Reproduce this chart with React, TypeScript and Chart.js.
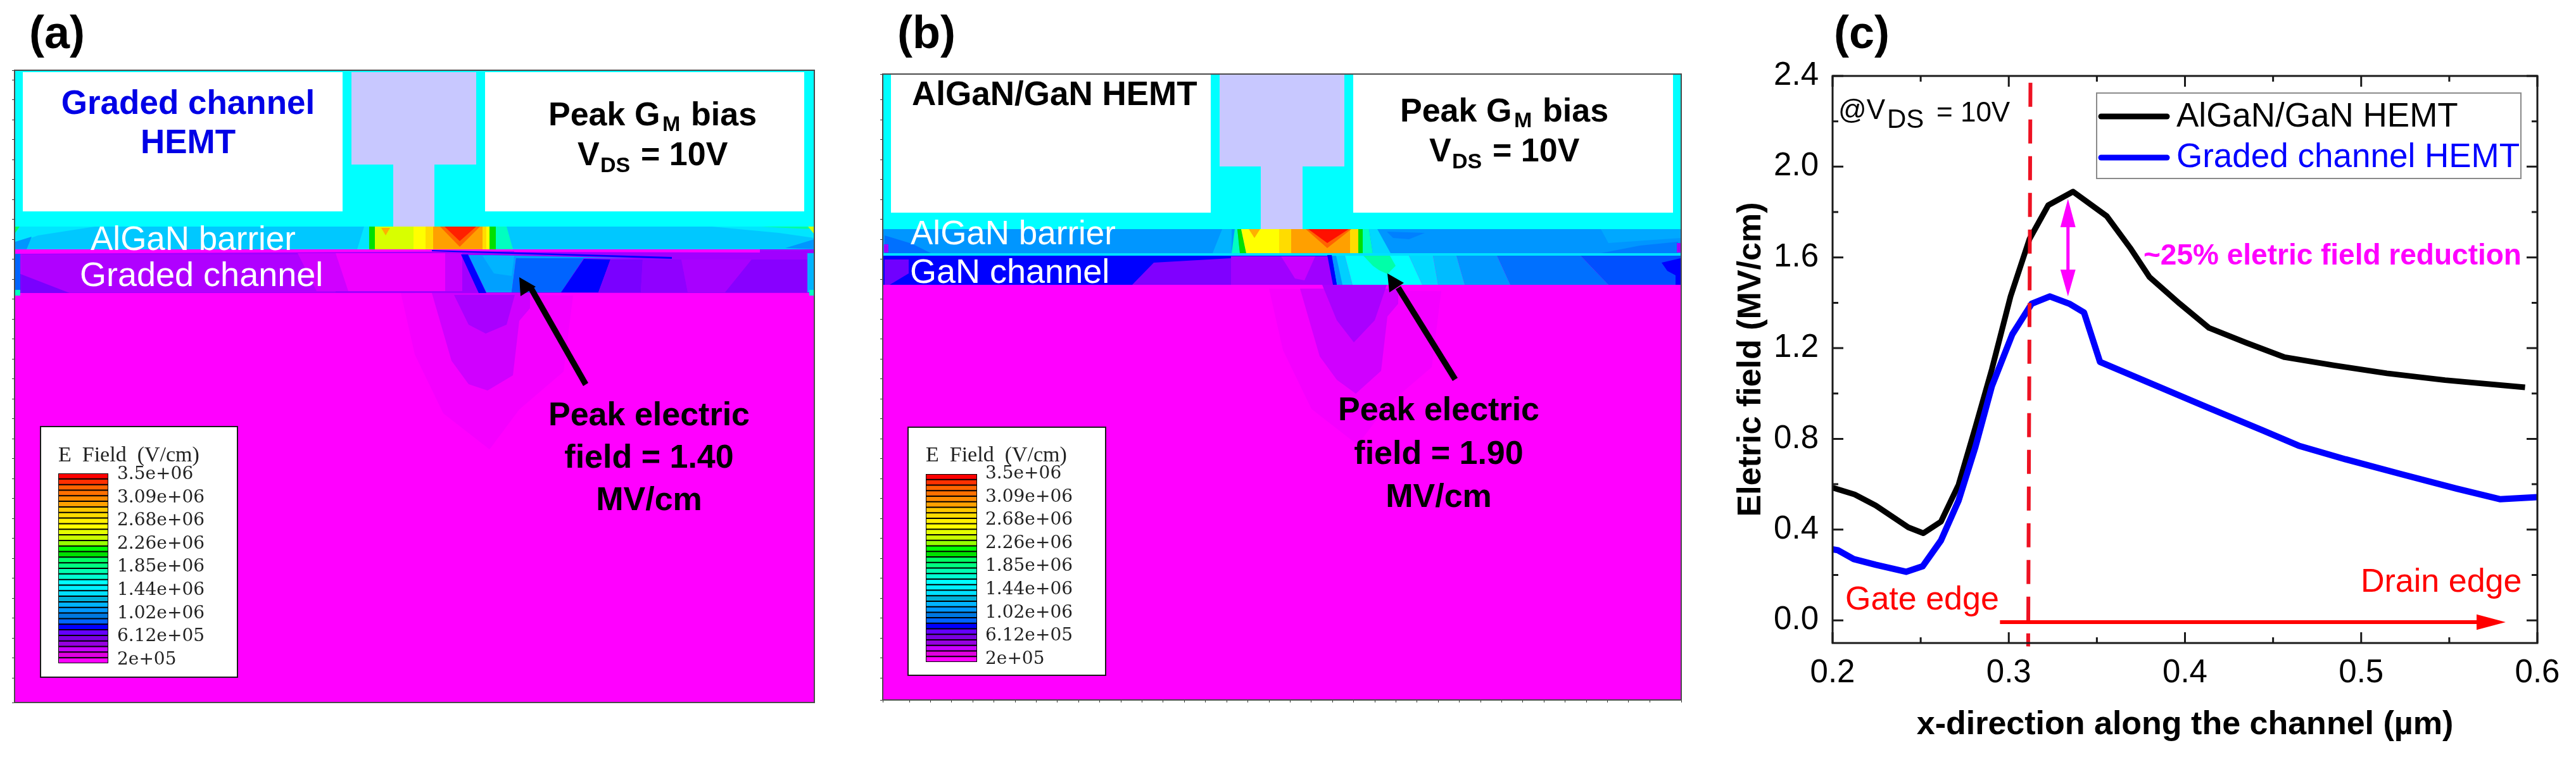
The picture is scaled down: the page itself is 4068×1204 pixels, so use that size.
import React, { useEffect, useRef } from "react";
import { Chart, registerables } from "chart.js";

Chart.register(...registerables);

const SANS = '"Liberation Sans"';
const SERIF = '"Liberation Serif"';
const DSERIF = '"DejaVu Serif"';

/* ---------- panel (c) values ---------- */
const algan = [
  [0.2, 0.585], [0.2125, 0.555], [0.2245, 0.506], [0.243, 0.41], [0.2515, 0.384], [0.2615, 0.435],
  [0.2715, 0.598], [0.281, 0.85], [0.2904, 1.107], [0.301, 1.428], [0.3117, 1.68], [0.3224, 1.83],
  [0.3365, 1.89], [0.3556, 1.782], [0.3688, 1.643], [0.3798, 1.514], [0.397, 1.396], [0.4137, 1.289],
  [0.4347, 1.224], [0.4566, 1.16], [0.4848, 1.124], [0.5146, 1.089], [0.5476, 1.059], [0.593, 1.027],
];
const graded = [
  [0.2, 0.313], [0.203, 0.309], [0.212, 0.27], [0.2245, 0.245], [0.2417, 0.214], [0.2511, 0.238],
  [0.2615, 0.352], [0.2715, 0.528], [0.281, 0.763], [0.2904, 1.032], [0.302, 1.261], [0.313, 1.396],
  [0.3233, 1.428], [0.3343, 1.396], [0.3427, 1.357], [0.3518, 1.139], [0.3813, 1.042], [0.4127, 0.939],
  [0.444, 0.838], [0.4645, 0.77], [0.4911, 0.71], [0.5225, 0.645], [0.5539, 0.581], [0.579, 0.534], [0.6, 0.543],
];
const gateEdge = [[0.3123, 2.37], [0.311, -0.115]];
const drainArrowShaft = [[0.295, -0.008], [0.566, -0.008]];
const drainArrowHead = [[0.5655, 0.026], [0.582, -0.008], [0.5655, -0.042]];
const reductionShaft = [[0.3336, 1.75], [0.3336, 1.53]];
const reductionHeadTop = [[0.3293, 1.733], [0.3336, 1.858], [0.3379, 1.733]];
const reductionHeadBottom = [[0.3293, 1.546], [0.3336, 1.428], [0.3379, 1.546]];
const xMajor = [0.2, 0.3, 0.4, 0.5, 0.6];
const xMinor = [0.25, 0.35, 0.45, 0.55];
const yMajor = [0, 0.4, 0.8, 1.2, 1.6, 2.0, 2.4];
const yMinor = [0.2, 0.6, 1.0, 1.4, 1.8, 2.2];

/* ---------- panel colour key ---------- */
const keyColors = [
  "#ff0000", "#ff3000", "#ff6400", "#ff7000", "#ff8a00", "#ffa000", "#ffc800", "#ffdc00", "#ffee00",
  "#ffff00", "#e4ff00", "#c8ff00", "#96ff00", "#00ff00", "#00e000", "#00ff64", "#00ff80", "#00ffb0",
  "#00ffd0", "#00ffff", "#00f0ff", "#00e0ff", "#00b0d8", "#00b4ff", "#0096ff", "#0078e0", "#0064ff",
  "#0000ff", "#6400ff", "#7a00e0", "#9600e0", "#c800ff", "#e000e0", "#ff00ff",
];
const keyLabels = ["3.5e+06", "3.09e+06", "2.68e+06", "2.26e+06", "1.85e+06", "1.44e+06", "1.02e+06", "6.12e+05", "2e+05"];

const r = (x0: number, y0: number, x1: number, y1: number) => [x0, y0, x1, y0, x1, y1, x0, y1];
type Region = [string, number[]];

/* ---------- panel (a) contour regions, painter's order ---------- */
const aSubstrate: Region[] = [
  ["#ff00ff", r(23, 111, 1286, 1110)],
  ["#f400ff", [633, 463, 655, 560, 700, 653, 773, 710, 820, 647, 890, 587, 905, 467]],
  ["#d000ff", [682, 463, 713, 570, 740, 607, 770, 617, 810, 593, 820, 507, 837, 487, 837, 463]],
  ["#aa00ff", [717, 466, 740, 513, 767, 527, 800, 513, 813, 466]],
];
const aDevice: Region[] = [
  ["#00ffff", r(23, 111, 1286, 358)],
  ["#ffffff", r(36, 114, 541, 334)],
  ["#ffffff", r(766, 114, 1270, 334)],
  ["#c8c8ff", r(555, 114, 752, 260)],
  ["#c8c8ff", r(621, 260, 686, 358)],
];
const aBarrier: Region[] = [
  ["#00c8ff", r(23, 358, 1286, 394)],
  ["#00e6ff", [24, 358, 150, 358, 60, 372, 24, 385]],
  ["#0096ff", [24, 382, 50, 374, 42, 394, 24, 394]],
  ["#00ff60", [24, 358, 31, 358, 24, 368]],
  ["#00e6ff", [1124, 358, 1286, 358, 1286, 376, 1230, 368]],
  ["#00ffa0", [1200, 358, 1278, 358, 1278, 362]],
  ["#0096ff", [1240, 392, 1286, 378, 1286, 394]],
  ["#d0ff00", [1276, 358, 1286, 358, 1286, 370]],
  ["#00e6ff", [564, 394, 575, 358, 583, 358, 583, 394]],
  ["#00e000", r(583, 358, 592, 394)],
  ["#d8ff00", r(592, 358, 653, 394)],
  ["#ffb000", [602, 360, 616, 360, 609, 372]],
  ["#ffff00", r(653, 358, 672, 394)],
  ["#ffdc00", r(672, 358, 684, 394)],
  ["#ffa000", r(684, 358, 762, 394)],
  ["#ffdc00", r(762, 358, 768, 394)],
  ["#ffff00", r(768, 358, 773, 394)],
  ["#00e000", r(773, 358, 783, 394)],
  ["#00ffc0", [783, 358, 800, 358, 810, 394, 783, 394]],
  ["#ff6400", [695, 358, 758, 358, 726, 390]],
  ["#ff2000", [702, 358, 752, 358, 726, 381]],
];
const aChannel: Region[] = [
  ["#a000ff", r(23, 394, 1286, 463)],
  ["#b000ff", r(30, 402, 530, 462)],
  ["#d000ff", [470, 400, 545, 400, 565, 460, 500, 460]],
  ["#f000ff", [530, 400, 703, 400, 703, 460, 550, 460]],
  ["#c800ff", r(703, 400, 730, 460)],
  ["#7a00ff", [30, 432, 110, 463, 30, 463]],
  ["#0064ff", r(24, 400, 32, 462)],
  ["#00ffc0", r(24, 458, 32, 467)],
  ["#ff00ff", [24, 394, 812, 394, 812, 397, 24, 401]],
  ["#ff00ff", [812, 394, 1200, 394, 1200, 399, 812, 398]],
  ["#00a0ff", [732, 402, 1002, 408, 815, 408, 808, 462, 768, 462, 739, 402]],
  ["#00b4ff", [762, 404, 812, 404, 808, 436, 780, 432]],
  ["#0064ff", [815, 408, 922, 408, 886, 462, 808, 462]],
  ["#0000ff", [922, 409, 964, 410, 945, 462, 886, 462]],
  ["#0000ff", [728, 402, 739, 402, 768, 463, 756, 463]],
  ["#0000ff", [682, 395, 1061, 406, 1061, 409, 682, 397]],
  ["#7a00ff", [964, 410, 1015, 410, 1012, 462, 945, 462]],
  ["#9000ff", [1015, 410, 1076, 410, 1086, 462, 1012, 462]],
  ["#a800ff", [1076, 410, 1187, 410, 1145, 462, 1086, 462]],
  ["#8800ff", [1187, 410, 1275, 410, 1275, 462, 1145, 462]],
  ["#00b4ff", r(1275, 400, 1285, 462)],
  ["#00ffc0", r(1278, 458, 1285, 467)],
];
const aArrow: Region[] = [
  ["#000000", [921, 610, 929, 605, 842, 452, 834, 457]],
  ["#000000", [820, 438, 822, 468, 846, 453]],
];

/* ---------- panel (b) contour regions, painter's order ---------- */
const bSubstrate: Region[] = [
  ["#ff00ff", r(1394, 117, 2655, 1106)],
  ["#f400ff", [2004, 456, 2026, 553, 2071, 646, 2144, 703, 2191, 640, 2261, 580, 2276, 460]],
  ["#d000ff", [2053, 456, 2084, 563, 2111, 600, 2141, 622, 2181, 586, 2191, 500, 2208, 480, 2208, 456]],
  ["#aa00ff", [2088, 450, 2111, 506, 2138, 541, 2171, 506, 2190, 450]],
];
const bDevice: Region[] = [
  ["#00ffff", r(1394, 117, 2655, 362)],
  ["#ffffff", r(1407, 117, 1912, 336)],
  ["#ffffff", r(2137, 117, 2642, 336)],
  ["#c8c8ff", r(1926, 117, 2123, 263)],
  ["#c8c8ff", r(1991, 263, 2057, 362)],
];
const bBarrier: Region[] = [
  ["#0096ff", r(1394, 362, 2655, 400)],
  ["#0070ff", [1397, 372, 1440, 385, 1470, 400, 1397, 400]],
  ["#a000ff", r(1396, 386, 1403, 399)],
  ["#00a8ff", [2528, 362, 2655, 362, 2655, 376, 2540, 384]],
  ["#007cff", [2528, 400, 2590, 388, 2650, 382, 2650, 400]],
  ["#0080ff", [2190, 366, 2250, 368, 2225, 378, 2200, 376]],
  ["#a000ff", r(2648, 384, 2654, 399)],
  ["#00b4ff", [1915, 400, 1930, 362, 1945, 362, 1945, 400]],
  ["#00ffc0", [1945, 400, 1950, 362, 1954, 362, 1958, 400]],
  ["#00e000", [1954, 362, 1960, 362, 1968, 400, 1958, 400]],
  ["#ffff00", [1960, 362, 2020, 362, 2020, 400, 1968, 400]],
  ["#ffb000", [1972, 362, 1990, 362, 1981, 376]],
  ["#ffdc00", r(2020, 362, 2039, 400)],
  ["#ffa000", r(2039, 362, 2132, 400)],
  ["#ffdc00", r(2132, 362, 2145, 400)],
  ["#00e000", r(2145, 362, 2152, 400)],
  ["#00ffc0", [2152, 362, 2162, 362, 2168, 400, 2152, 400]],
  ["#00d8ff", [2162, 362, 2175, 362, 2196, 400, 2168, 400]],
  ["#ff6400", [2062, 362, 2134, 362, 2096, 392]],
  ["#ff1000", [2066, 362, 2130, 362, 2096, 384]],
];
const bChannel: Region[] = [
  ["#0000ff", r(1394, 404, 2112, 450)],
  ["#7000ff", [1397, 410, 1435, 410, 1435, 432, 1405, 450, 1397, 450]],
  ["#8000ff", [1822, 415, 1944, 408, 1944, 450, 1788, 450]],
  ["#a000ff", r(1944, 405, 2105, 450)],
  ["#c800ff", [2023, 405, 2077, 405, 2060, 443, 2045, 440]],
  ["#0096ff", [2103, 404, 2116, 404, 2120, 450, 2111, 450]],
  ["#00d0ff", [2110, 404, 2124, 404, 2136, 450, 2120, 450]],
  ["#00ffff", [2124, 404, 2225, 404, 2246, 450, 2136, 450]],
  ["#00ffa8", [2153, 404, 2195, 404, 2204, 420, 2191, 433, 2178, 427, 2168, 420]],
  ["#00d8ff", [2225, 404, 2263, 404, 2271, 450, 2246, 450]],
  ["#00bcff", [2263, 404, 2300, 404, 2313, 450, 2271, 450]],
  ["#0096ff", [2300, 404, 2364, 404, 2385, 450, 2313, 450]],
  ["#0070ff", [2364, 404, 2496, 404, 2540, 450, 2385, 450]],
  ["#0050ff", [2496, 404, 2655, 404, 2655, 450, 2540, 450]],
  ["#0000ff", [2624, 415, 2654, 408, 2654, 450, 2646, 450, 2646, 435, 2633, 428]],
  ["#00e0ff", r(1394, 400, 2655, 404)],
  ["#0000ff", [2096, 403, 2103, 403, 2111, 450, 2105, 450]],
];
const bArrow: Region[] = [
  ["#000000", [2294, 602, 2302, 597, 2212, 452, 2204, 457]],
  ["#000000", [2191, 432, 2194, 462, 2217, 447]],
];

/* ---------- texts ---------- */
type Txt = [string, number, number, string, string, string?];
const W = "#ffffff";
const K = "#000000";
const aTexts: Txt[] = [
  ["(a)", 46, 76, `bold 72px ${SANS}`, K],
  ["Graded channel", 297, 180, `bold 53px ${SANS}`, "#0000e6", "center"],
  ["HEMT", 297, 242, `bold 53px ${SANS}`, "#0000e6", "center"],
  ["Peak G", 866, 198, `bold 52px ${SANS}`, K],
  ["M", 1046, 207, `bold 34px ${SANS}`, K],
  ["bias", 1091, 198, `bold 52px ${SANS}`, K],
  ["V", 912, 261, `bold 52px ${SANS}`, K],
  ["DS", 948, 272, `bold 34px ${SANS}`, K],
  ["= 10V", 1012, 261, `bold 52px ${SANS}`, K],
  ["AlGaN barrier", 143, 395, `53px ${SANS}`, W],
  ["Graded channel", 126, 452, `54px ${SANS}`, W],
  ["Peak electric", 1025, 672, `bold 52px ${SANS}`, K, "center"],
  ["field = 1.40", 1025, 739, `bold 52px ${SANS}`, K, "center"],
  ["MV/cm", 1025, 806, `bold 52px ${SANS}`, K, "center"],
  ["E  Field  (V/cm)", 92, 729, `34px ${SERIF}`, "#222222"],
];
const bTexts: Txt[] = [
  ["(b)", 1417, 76, `bold 72px ${SANS}`, K],
  ["AlGaN/GaN HEMT", 1440, 166, `bold 53px ${SANS}`, K],
  ["Peak G", 2211, 192, `bold 52px ${SANS}`, K],
  ["M", 2391, 201, `bold 34px ${SANS}`, K],
  ["bias", 2436, 192, `bold 52px ${SANS}`, K],
  ["V", 2257, 255, `bold 52px ${SANS}`, K],
  ["DS", 2293, 266, `bold 34px ${SANS}`, K],
  ["= 10V", 2357, 255, `bold 52px ${SANS}`, K],
  ["AlGaN barrier", 1438, 386, `53px ${SANS}`, W],
  ["GaN channel", 1437, 447, `54px ${SANS}`, W],
  ["Peak electric", 2272, 664, `bold 52px ${SANS}`, K, "center"],
  ["field = 1.90", 2272, 733, `bold 52px ${SANS}`, K, "center"],
  ["MV/cm", 2272, 801, `bold 52px ${SANS}`, K, "center"],
  ["E  Field  (V/cm)", 1462, 729, `34px ${SERIF}`, "#222222"],
];
const cTexts: Txt[] = [
  ["(c)", 2896, 76, `bold 72px ${SANS}`, K],
  ["@V", 2903, 188, `44px ${SANS}`, K],
  ["DS", 2980, 202, `42px ${SANS}`, K],
  ["= 10V", 3058, 192, `44px ${SANS}`, K],
  ["~25% eletric field reduction", 3385, 418, `bold 46px ${SANS}`, "#ff00ff"],
  ["Gate edge", 2914, 963, `52px ${SANS}`, "#ff0000"],
  ["Drain edge", 3728, 935, `52px ${SANS}`, "#ff0000"],
];

const pts = (a: number[]) => {
  const o: { x: number; y: number }[] = [];
  for (let i = 0; i < a.length; i += 2) o.push({ x: a[i], y: a[i + 1] });
  return o;
};
const pairs = (a: number[][]) => a.map(([x, y]) => ({ x, y }));

const shape = (color: string, data: { x: number; y: number }[]) => ({
  data,
  showLine: true,
  fill: "shape",
  tension: 0,
  backgroundColor: color,
  borderColor: color,
  borderWidth: 0,
  pointRadius: 0,
});

const textPlugin = (items: Txt[], offset: number) => ({
  id: "texts",
  afterDraw(chart: any) {
    const c = chart.ctx;
    c.save();
    c.textBaseline = "alphabetic";
    for (const [t, x, y, f, col, al] of items) {
      c.font = f;
      c.fillStyle = col;
      c.textAlign = al || "left";
      c.fillText(t, x - offset, y);
    }
    c.restore();
  },
});

function panelConfig(
  regions: Region[],
  box: { x0: number; x1: number; y0: number; y1: number },
  offset: number,
  width: number,
  key: { bx0: number; bx1: number; by0: number; by1: number; cx0: number; cx1: number; cy0: number; cy1: number; lx: number; lb: number },
  texts: Txt[],
  bottomTicks: boolean
) {
  const keyLayers: Region[] = [
    ["#1a1a1a", r(key.bx0, key.by0, key.bx1, key.by1)],
    ["#ffffff", r(key.bx0 + 2, key.by0 + 2, key.bx1 - 2, key.by1 - 2)],
    ["#000000", r(key.cx0, key.cy0, key.cx1, key.cy1)],
  ];
  const bandH = (key.cy1 - key.cy0) / keyColors.length;
  keyColors.forEach((col, i) => {
    keyLayers.push([col, r(key.cx0 + 1, key.cy0 + i * bandH + 1, key.cx1 - 1, key.cy0 + (i + 1) * bandH - 1)]);
  });
  const all = [...regions, ...keyLayers];
  const labelTexts: Txt[] = keyLabels.map((t, i) => [t, key.lx, key.lb + i * 36.6, `28px ${DSERIF}`, "#222222"] as Txt);
  return {
    type: "scatter" as const,
    data: { datasets: all.slice().reverse().map(([c, p]) => shape(c, pts(p))) },
    plugins: [
      textPlugin([...texts, ...labelTexts], offset),
      {
        id: "frame",
        afterDatasetsDraw(chart: any) {
          const { left, right, top, bottom } = chart.chartArea;
          const c = chart.ctx;
          c.save();
          c.strokeStyle = "#4a4a4a";
          c.lineWidth = 2;
          c.strokeRect(left, top, right - left, bottom - top);
          c.restore();
        },
      },
    ],
    options: {
      animation: false,
      responsive: false,
      devicePixelRatio: 1,
      events: [],
      layout: {
        padding: { left: box.x0 - offset, right: width - (box.x1 - offset), top: box.y0, bottom: 1204 - box.y1 },
      },
      plugins: { legend: { display: false }, tooltip: { enabled: false } },
      scales: {
        x: {
          type: "linear",
          min: box.x0,
          max: box.x1,
          display: true,
          afterFit: (s: any) => { s.height = 0; },
          ticks: { display: false, stepSize: 33.4 },
          grid: { drawOnChartArea: false, drawTicks: bottomTicks, tickLength: 4, color: "#333333" },
          border: { display: false },
        },
        y: {
          type: "linear",
          reverse: true,
          min: box.y0,
          max: box.y1,
          display: true,
          afterFit: (s: any) => { s.width = 0; },
          ticks: { display: false, stepSize: 31.5 },
          grid: { drawOnChartArea: false, drawTicks: true, tickLength: 4, color: "#333333" },
          border: { display: false },
        },
      },
    },
  };
}

function plotConfig(offset: number, width: number) {
  const series = (label: string, data: number[][], color: string, w: number) => ({
    label,
    data: pairs(data),
    showLine: true,
    tension: 0,
    borderColor: color,
    backgroundColor: color,
    borderWidth: w,
    pointRadius: 0,
    borderJoinStyle: "round" as const,
  });
  const line = (data: number[][], color: string, w: number, dash?: number[]) => ({
    data: pairs(data),
    showLine: true,
    borderColor: color,
    borderWidth: w,
    borderDash: dash || [],
    pointRadius: 0,
    clip: false,
  });
  const datasets = [
    shape("#ff00ff", pairs(reductionHeadTop)),
    shape("#ff00ff", pairs(reductionHeadBottom)),
    line(reductionShaft, "#ff00ff", 5),
    shape("#ff0000", pairs(drainArrowHead)),
    line(drainArrowShaft, "#ff0000", 6),
    line(gateEdge, "#ee1122", 6, [38, 20]),
    series("Graded channel HEMT", graded, "#0000ff", 10),
    series("AlGaN/GaN HEMT", algan, "#000000", 9),
  ];
  const plotFrame = {
    id: "plotFrame",
    afterDatasetsDraw(chart: any) {
      const { left, right, top, bottom } = chart.chartArea;
      const { x, y } = chart.scales;
      const c = chart.ctx;
      c.save();
      c.strokeStyle = "#1a1a1a";
      c.lineWidth = 3;
      c.strokeRect(left, top, right - left, bottom - top);
      c.beginPath();
      const tickY = (v: number, len: number) => {
        const p = y.getPixelForValue(v);
        c.moveTo(left, p); c.lineTo(left + len, p);
        c.moveTo(right, p); c.lineTo(right - len, p);
      };
      const tickX = (v: number, len: number) => {
        const p = x.getPixelForValue(v);
        c.moveTo(p, bottom); c.lineTo(p, bottom - len);
        c.moveTo(p, top); c.lineTo(p, top + len);
      };
      yMajor.forEach((v) => tickY(v, 17));
      yMinor.forEach((v) => tickY(v, 9));
      xMajor.forEach((v) => tickX(v, 17));
      xMinor.forEach((v) => tickX(v, 9));
      c.stroke();

      /* legend box, from the two named series */
      const bx = 3311 - offset, by = 147, bw = 670, bh = 135;
      c.fillStyle = "#ffffff";
      c.fillRect(bx, by, bw, bh);
      c.strokeStyle = "#8a8a8a";
      c.lineWidth = 2;
      c.strokeRect(bx, by, bw, bh);
      const rows = [datasets[7], datasets[6]];
      const sampleY = [184, 249];
      const textY = [200, 264];
      rows.forEach((d: any, i) => {
        c.strokeStyle = d.borderColor;
        c.lineWidth = 9;
        c.lineCap = "round";
        c.beginPath();
        c.moveTo(3318 - offset, sampleY[i]);
        c.lineTo(3422 - offset, sampleY[i]);
        c.stroke();
        c.fillStyle = d.borderColor;
        c.font = `53px ${SANS}`;
        c.textAlign = "left";
        c.textBaseline = "alphabetic";
        c.fillText(d.label, 3437 - offset, textY[i]);
      });
      c.restore();
    },
  };
  return {
    type: "scatter" as const,
    data: { datasets },
    plugins: [plotFrame, textPlugin(cTexts, offset)],
    options: {
      animation: false,
      responsive: false,
      devicePixelRatio: 1,
      events: [],
      layout: { padding: { left: 0, top: 120, right: width - (4007 - offset), bottom: 0 } },
      plugins: { legend: { display: false }, tooltip: { enabled: false } },
      scales: {
        x: {
          type: "linear",
          min: 0.2,
          max: 0.6,
          afterFit: (s: any) => { s.height = 1204 - 1016; },
          afterBuildTicks: (s: any) => { s.ticks = xMajor.map((value) => ({ value })); },
          ticks: {
            color: "#000000",
            font: { family: "Liberation Sans", size: 51 },
            padding: 17,
            maxRotation: 0,
            autoSkip: false,
            callback: (v: any) => Number(v).toFixed(1),
          },
          grid: { display: false, drawTicks: false },
          border: { display: false },
          title: {
            display: true,
            text: "x-direction along the channel (µm)",
            color: "#000000",
            font: { family: "Liberation Sans", size: 52, weight: "bold" },
            padding: { top: 0, bottom: 27 },
          },
        },
        y: {
          type: "linear",
          min: -0.1,
          max: 2.4,
          afterFit: (s: any) => { s.width = 2894 - offset; },
          afterBuildTicks: (s: any) => { s.ticks = yMajor.map((value) => ({ value })); },
          ticks: {
            color: "#000000",
            font: { family: "Liberation Sans", size: 51 },
            padding: 22,
            autoSkip: false,
            callback: (v: any) => Number(v).toFixed(1),
          },
          grid: { display: false, drawTicks: false },
          border: { display: false },
          title: {
            display: true,
            text: "Eletric field (MV/cm)",
            color: "#000000",
            font: { family: "Liberation Sans", size: 52, weight: "bold" },
            padding: { top: 14, bottom: 0 },
          },
        },
      },
    },
  };
}

const A_OFF = 0, A_W = 1340, B_OFF = 1340, B_W = 1380, C_OFF = 2720, C_W = 1348;

export default function App() {
  const aRef = useRef<HTMLCanvasElement>(null);
  const bRef = useRef<HTMLCanvasElement>(null);
  const cRef = useRef<HTMLCanvasElement>(null);
  useEffect(() => {
    const charts = [
      new Chart(
        aRef.current as any,
        panelConfig(
          [...aSubstrate, ...aDevice, ...aBarrier, ...aChannel, ...aArrow],
          { x0: 23, x1: 1286, y0: 111, y1: 1110 },
          A_OFF,
          A_W,
          { bx0: 63, bx1: 376, by0: 673, by1: 1071, cx0: 92, cx1: 171, cy0: 748, cy1: 1048, lx: 185, lb: 757 },
          aTexts,
          false
        ) as any
      ),
      new Chart(
        bRef.current as any,
        panelConfig(
          [...bSubstrate, ...bDevice, ...bBarrier, ...bChannel, ...bArrow],
          { x0: 1394, x1: 2655, y0: 117, y1: 1106 },
          B_OFF,
          B_W,
          { bx0: 1433, bx1: 1747, by0: 674, by1: 1068, cx0: 1462, cx1: 1543, cy0: 749, cy1: 1046, lx: 1556, lb: 756 },
          bTexts,
          true
        ) as any
      ),
      new Chart(cRef.current as any, plotConfig(C_OFF, C_W) as any),
    ];
    return () => charts.forEach((c) => c.destroy());
  }, []);
  const style = (left: number, width: number): React.CSSProperties => ({
    position: "absolute",
    left,
    top: 0,
    width,
    height: 1204,
    display: "block",
  });
  return (
    <div style={{ position: "absolute", left: 0, top: 0, width: 4068, height: 1204, background: "#ffffff", overflow: "hidden" }}>
      <canvas ref={aRef} width={A_W} height={1204} style={style(A_OFF, A_W)} />
      <canvas ref={bRef} width={B_W} height={1204} style={style(B_OFF, B_W)} />
      <canvas ref={cRef} width={C_W} height={1204} style={style(C_OFF, C_W)} />
    </div>
  );
}
